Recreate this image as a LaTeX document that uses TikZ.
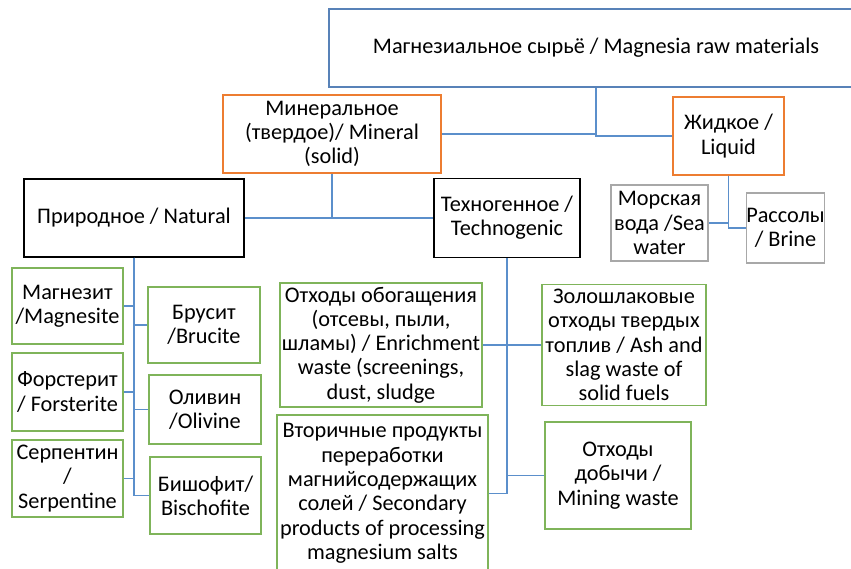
\documentclass[tikz,border=0pt]{standalone}
\usepackage{fontspec}
\setmainfont{Carlito}
\usepackage{xcolor}
\definecolor{lineblue}{HTML}{5B8FCB}
\definecolor{topblue}{HTML}{5882B8}
\definecolor{boxorange}{HTML}{ED7D31}
\definecolor{boxgreen}{HTML}{7FB45A}
\definecolor{boxgray}{HTML}{A8A8A8}
\tikzset{
	box/.style={draw, line width=1.4pt, align=center, inner sep=0pt, font=\fontsize{22.3}{24.3}\selectfont},
	link/.style={draw=lineblue, line width=1.6pt}
}
\begin{document}
\begin{tikzpicture}[x=1pt, y=-1pt]
\useasboundingbox (0,0) rectangle (851,569);
\node[box, draw=topblue, minimum width=534, minimum height=78] (top) at (596,48) {Магнезиальное сырьё / Magnesia raw materials};
\node[box, draw=boxorange, minimum width=218, minimum height=78] (mineral) at (332,134) {Минеральное\\(твердое)/ Mineral\\(solid)};
\node[box, draw=boxorange, minimum width=111, minimum height=78] (liquid) at (728.5,136) {Жидкое /\\Liquid};
\node[box, draw=black, minimum width=220, minimum height=78] (natural) at (134,218) {Природное / Natural};
\node[box, draw=black, minimum width=146, minimum height=79] (techno) at (507,218) {Техногенное /\\Technogenic};
\node[box, draw=boxgray, minimum width=97, minimum height=76] (sea) at (659.5,223) {Морская\\вода /Sea\\water};
\node[box, draw=boxgray, minimum width=77, minimum height=70] (brine) at (785.5,228) {Рассолы\\/ Brine};
\node[box, draw=boxgreen, minimum width=111, minimum height=76] (magnesite) at (67.5,306) {Магнезит\\/Magnesite};
\node[box, draw=boxgreen, minimum width=111, minimum height=78] (forsterite) at (67.5,392) {Форстерит\\/ Forsterite};
\node[box, draw=boxgreen, minimum width=111, minimum height=77] (serpentine) at (67.5,478.5) {Серпентин\\/\\Serpentine};
\node[box, draw=boxgreen, minimum width=112, minimum height=76] (brucite) at (204,325) {Брусит\\/Brucite};
\node[box, draw=boxgreen, minimum width=112, minimum height=69] (olivine) at (205,409.5) {Оливин\\/Olivine};
\node[box, draw=boxgreen, minimum width=111, minimum height=77] (bischofite) at (205.5,495.5) {Бишофит/\\Bischofite};
\node[box, draw=boxgreen, minimum width=202, minimum height=124] (enrich) at (381,345) {Отходы обогащения\\(отсевы, пыли,\\шламы) / Enrichment\\waste (screenings,\\dust, sludge};
\node[box, draw=boxgreen, minimum width=211, minimum height=157] (second) at (382.5,493.5) {Вторичные продукты\\переработки\\магнийсодержащих\\солей / Secondary\\products of processing\\magnesium salts};
\node[box, draw=boxgreen, minimum width=164, minimum height=121] (ash) at (624,345) {Золошлаковые\\отходы твердых\\топлив / Ash and\\slag waste of\\solid fuels};
\node[box, draw=boxgreen, minimum width=146, minimum height=107] (mining) at (618,475.5) {Отходы\\добычи /\\Mining waste};
\foreach \a in {mineral,liquid}{
	\draw[link] (top) |- (\a);
}
\foreach \a in {natural,techno}{
	\draw[link] (mineral) |- (\a);
}
\foreach \a in {sea,brine}{
	\draw[link] (liquid) |- (\a);
}
\foreach \a in {magnesite,forsterite,serpentine,brucite,olivine,bischofite}{
	\draw[link] (natural) |- (\a);
}
\foreach \a in {enrich,ash,mining,second}{
	\draw[link] (techno) |- (\a);
}
\end{tikzpicture}
\end{document}
